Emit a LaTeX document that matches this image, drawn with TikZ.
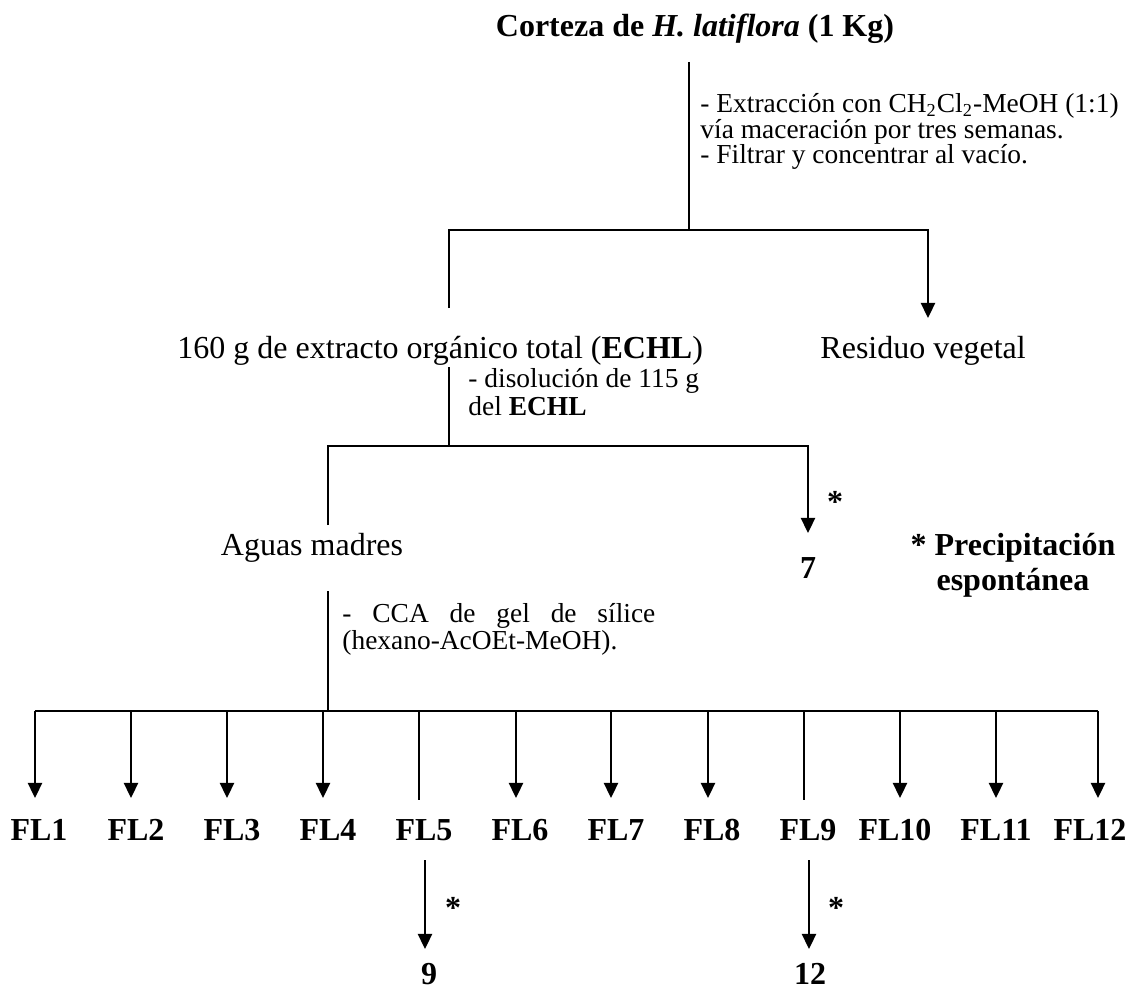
\documentclass[tikz,border=0pt]{standalone}
\usepackage{fontspec}
\setmainfont{Liberation Serif}
\usetikzlibrary{arrows.meta}
\begin{document}
\begin{tikzpicture}[x=0.4375pt,y=-0.4375pt,
  big/.style={font=\fontsize{14}{16}\selectfont, inner sep=0pt},
  bigb/.style={font=\fontsize{14}{15.3}\selectfont\bfseries, inner sep=0pt},
  note/.style={font=\fontsize{12}{11.3}\selectfont, inner sep=0pt, align=left},
  wire/.style={line width=0.85pt},
  thinwire/.style={line width=0.6pt},
  arr/.style={wire, -{Triangle[length=6.6pt,width=6.2pt]}, line join=miter},
]
\useasboundingbox (0,0) rectangle (1130,989);

% --- start material and first extraction
% (multi-line nodes are placed by the baseline of their last line)
\node[bigb, anchor=base] (corteza) at (695,37) {Corteza de \textit{H. latiflora} (1 Kg)};
\node[note, anchor=base west] (ext) at (700,164)
  {- Extracción con CH\textsubscript{2}Cl\textsubscript{2}-MeOH (1:1)\\
   vía maceración por tres semanas.\\
   - Filtrar y concentrar al vacío.};
\coordinate (s0) at (689,62);
\coordinate (j0) at (689,230);
\coordinate (jL) at (449,230);
\coordinate (jR) at (928,230);
\coordinate (eL) at (449,308);
\coordinate (eR) at (928,318);
\draw[wire] (s0) -- (j0);
\draw[arr] (eL) -- (jL) -- (jR) -- (eR);

\node[big, anchor=base west] (echl) at (177,358) {160 g de extracto orgánico total (\textbf{ECHL})};
\node[big, anchor=base west] (residuo) at (820,358) {Residuo vegetal};

% --- dissolution of the organic extract
\node[note, anchor=base west, font=\fontsize{12}{10.8}\selectfont] (disol) at (468,415)
  {- disolución de 115 g\\ del \textbf{ECHL}};
\coordinate (s1) at (449,367);
\coordinate (j1) at (449,446);
\coordinate (k1L) at (328,446);
\coordinate (k1R) at (808,446);
\coordinate (e1L) at (328,525);
\coordinate (e1R) at (808,533);
\draw[wire] (s1) -- (j1);
\draw[arr] (e1L) -- (k1L) -- (k1R) -- (e1R);
\node[bigb, anchor=base] (ast7) at (835,512) {*};

\node[big, anchor=base] (aguas) at (312,555) {Aguas madres};
\node[bigb, anchor=base] (c7) at (808,578) {7};
\node[bigb, anchor=base, align=center] (leyenda) at (1013,590) {* Precipitación\\espontánea};

% --- column chromatography
\node[note, anchor=base west, font=\fontsize{12}{11.8}\selectfont] (cca) at (342,649)
  {\makebox[136.9pt][s]{- CCA de gel de sílice}\\(hexano-AcOEt-MeOH).};
\coordinate (s2) at (328,591);
\coordinate (j2) at (328,711);
\coordinate (hL) at (35,711);
\coordinate (hR) at (1098,711);
\draw[wire] (s2) -- (j2);
\draw[wire] (hL) -- (hR);

% fractions FL1 ... FL12
\foreach \n/\ax/\lx/\tip in {1/35/39/1, 2/131/136/1, 3/227/232/1, 4/323/328/1,
    5/419/424/0, 6/516/520/1, 7/611/616/1, 8/708/712/1, 9/804/808/0,
    10/900/895/1, 11/996/996/1, 12/1098/1090/1}{
  \node[bigb, anchor=base] (fl\n) at (\lx,840) {FL\n};
  \coordinate (t\n) at (\ax,711);
  \ifnum\tip=1
    \coordinate (b\n) at (\ax,798);
    \draw[arr] (t\n) -- (b\n);
  \else
    \coordinate (b\n) at (\ax,800);
    \draw[thinwire] (t\n) -- (b\n);
  \fi
}

% spontaneous precipitation from FL5 and FL9
\coordinate (p5a) at (425,860);
\coordinate (p5b) at (425,949);
\coordinate (p9a) at (809,860);
\coordinate (p9b) at (809,949);
\draw[arr] (p5a) -- (p5b);
\draw[arr] (p9a) -- (p9b);
\node[bigb, anchor=base] (ast9) at (453,918) {*};
\node[bigb, anchor=base] (ast12) at (836,918) {*};
\node[bigb, anchor=base] (c9) at (429,984) {9};
\node[bigb, anchor=base] (c12) at (810,984) {12};
\end{tikzpicture}
\end{document}
